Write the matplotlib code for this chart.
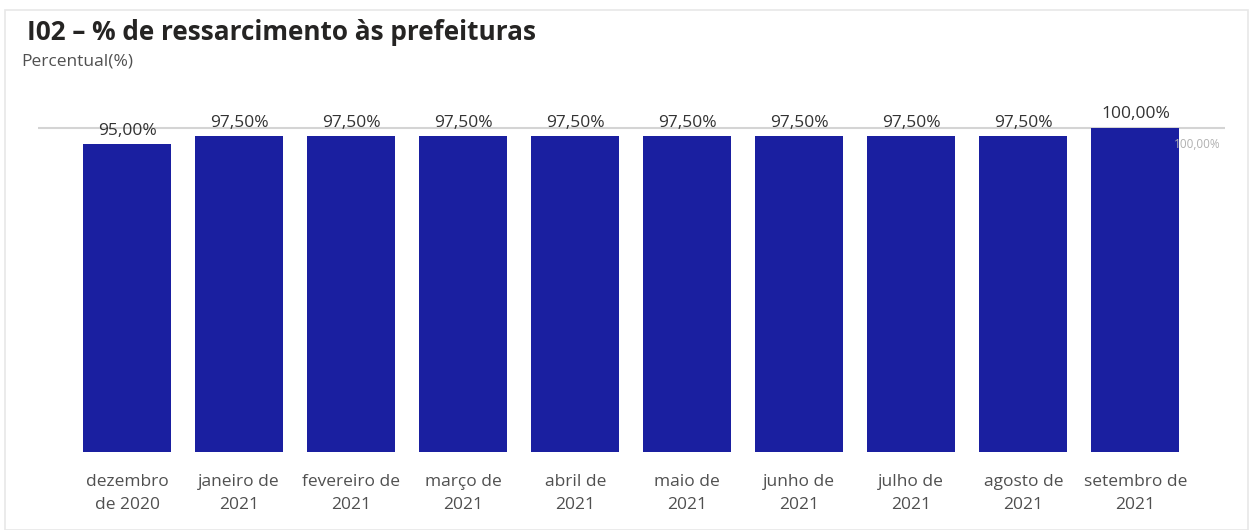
import matplotlib
matplotlib.use("Agg")
import matplotlib.pyplot as plt
from matplotlib.patches import Rectangle

categories = ["dezembro\nde 2020", "janeiro de\n2021", "fevereiro de\n2021", "março de\n2021",
              "abril de\n2021", "maio de\n2021", "junho de\n2021", "julho de\n2021",
              "agosto de\n2021", "setembro de\n2021"]
values = [95.0, 97.5, 97.5, 97.5, 97.5, 97.5, 97.5, 97.5, 97.5, 100.0]
reference = 100.0

plt.rcParams['font.family'] = ['Open Sans', 'DejaVu Sans']

W, H = 1256, 530
fig = plt.figure(figsize=(W / 100, H / 100), dpi=100)
fig.patch.set_facecolor("white")

# outer frame
fig.patches.append(Rectangle((5 / W, 0 / H), 1243 / W, 520 / H, transform=fig.transFigure,
                             fill=False, edgecolor="#e8e8e8", linewidth=1.2))

ax_left, ax_right = 38, 1225
ax_bottom, ax_top = 452, 100
ax = fig.add_axes([ax_left / W, (H - ax_bottom) / H, (ax_right - ax_left) / W, (ax_bottom - ax_top) / H])

x = list(range(len(categories)))
ax.bar(x, values, width=0.786, color="#1a1fa0", zorder=2)
ax.axhline(reference, color="#d4d4d4", linewidth=1.5, zorder=1)

ax.set_xlim(-0.795, 9.80)
ax.set_ylim(0, 100 * (ax_bottom - ax_top) / (ax_bottom - 128))

for xi, v in zip(x, values):
    ax.annotate(f"{v:.2f}%".replace(".", ","), (xi, v), xytext=(0, 4), textcoords="offset points",
                ha="center", va="bottom", fontsize=12.5, color="#333333")

ax.annotate(f"{reference:.2f}%".replace(".", ","), (9.80, reference), xytext=(-3, -12),
            textcoords="offset points", ha="right", va="center", fontsize=8.5, color="#b0b0b0")

ax.set_xticks(x)
ax.set_xticklabels(categories, fontsize=12.5, color="#505050", linespacing=1.6)
ax.tick_params(axis="x", length=0, pad=16)
ax.set_yticks([])
for s in ax.spines.values():
    s.set_visible(False)

fig.text(27 / W, 1 - 32 / H, "I02 – % de ressarcimento às prefeituras", fontsize=18.8, fontweight="bold",
         color="#252423", va="center", ha="left")
fig.text(21 / W, 1 - 62 / H, "Percentual(%)", fontsize=12.5, color="#505050", va="center", ha="left")

fig.savefig("out.png", dpi=100)
